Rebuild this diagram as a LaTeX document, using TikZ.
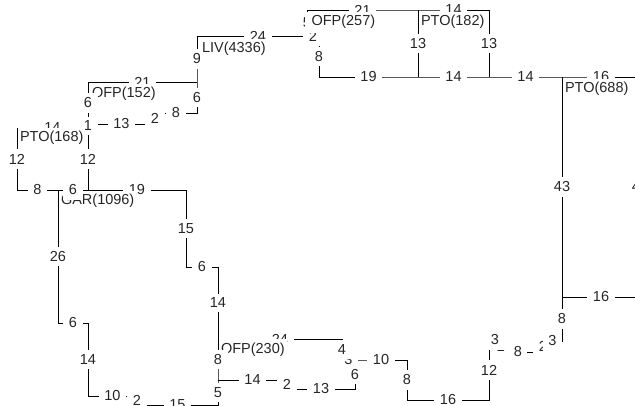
\documentclass[tikz,border=0pt]{standalone}
\usepackage{fontspec}
\setmainfont{Liberation Sans}
\usetikzlibrary{calc}
\definecolor{ink}{HTML}{262626}
\tikzset{
  road/.style={draw=black, line width=0.9pt, line join=miter},
  el/.style={fill=white, text=ink, inner xsep=5.5pt, inner ysep=4.5pt, outer sep=0pt,
    font=\fontsize{14.5}{16}\selectfont},
  nl/.style={fill=white, text=ink, anchor=base west, inner xsep=2pt, inner ysep=3pt, outer sep=0pt,
    font=\fontsize{14.5}{16}\selectfont},
}
\newcommand\elab[4][.5]{\node[el] (l-#2-#3) at ($(#2)!#1!(#3)$) {#4};}
\begin{document}
\begin{tikzpicture}[x=1pt,y=-1pt]
\useasboundingbox (0,0) rectangle (635,406);
% junctions
\coordinate (p1) at (17,128);
\coordinate (p2) at (88,128);
\coordinate (p3) at (88,124);
\coordinate (p4) at (155,124);
\coordinate (p5) at (155,113);
\coordinate (p6) at (197,113);
\coordinate (p7) at (197,82);
\coordinate (p8) at (197,36);
\coordinate (p9) at (88,82);
\coordinate (p10) at (307,36);
\coordinate (p11) at (319,36);
\coordinate (p12) at (307,10);
\coordinate (p13) at (418,10);
\coordinate (p14) at (489,10);
\coordinate (p15) at (319,77);
\coordinate (p16) at (418,77);
\coordinate (p17) at (489,77);
\coordinate (p18) at (562,77);
\coordinate (p19) at (640,77);
\coordinate (p20) at (562,297);
\coordinate (p21) at (640,297);
\coordinate (qf) at (562,341);
\coordinate (qe) at (543,341);
\coordinate (qd) at (543,352);
\coordinate (qc) at (501,352);
\coordinate (qb) at (501,340);
\coordinate (qa) at (489,340);
\coordinate (p23) at (489,400);
\coordinate (p24) at (407,400);
\coordinate (p25) at (407,360);
\coordinate (p26) at (355,360);
\coordinate (p27) at (342,360);
\coordinate (p28) at (342,339);
\coordinate (p29) at (218,339);
\coordinate (p30) at (355,389);
\coordinate (p31) at (287,389);
\coordinate (p32) at (287,380);
\coordinate (p33) at (218,380);
\coordinate (p34) at (218,405);
\coordinate (p35) at (137,405);
\coordinate (p36) at (137,396);
\coordinate (p37) at (88,396);
\coordinate (p38) at (88,323);
\coordinate (p39) at (58,323);
\coordinate (p40) at (58,190);
\coordinate (p41) at (17,190);
\coordinate (p42) at (88,190);
\coordinate (p43) at (186,190);
\coordinate (p44) at (186,267);
\coordinate (p45) at (218,267);
% streets
\draw[road] (p41) -- (p1) -- (p2) -- (p3) -- (p4) -- (p5) -- (p6) -- (p7) -- (p8) -- (p11)
  -- (p15) -- (p16) -- (p17) -- (p18) -- (p19) -- (p21) -- (p20) -- (qf) -- (qe) -- (qd)
  -- (qc) -- (qb) -- (qa) -- (p23) -- (p24) -- (p25) -- (p26) -- (p27) -- (p28) -- (p29)
  -- (p45) -- (p44) -- (p43) -- (p41);
\draw[road] (p3) -- (p9) -- (p7);
\draw[road] (p2) -- (p42);
\draw[road] (p10) -- (p12) -- (p13) -- (p14) -- (p17);
\draw[road] (p13) -- (p16);
\draw[road] (p18) -- (p20);
\draw[road] (p29) -- (p33) -- (p34) -- (p35) -- (p36) -- (p37) -- (p38) -- (p39) -- (p40);
\draw[road] (p26) -- (p30) -- (p31) -- (p32) -- (p33);
% segment lengths
\elab{p1}{p2}{14}
\elab{p2}{p3}{1}
\elab{p9}{p7}{21}
\elab{p3}{p4}{13}
\elab{p4}{p5}{2}
\elab{p5}{p6}{8}
\elab{p6}{p7}{6}
\elab{p7}{p8}{9}
\elab{p8}{p11}{24}
\elab{p10}{p11}{2}
\elab{p10}{p12}{5}
\elab{p12}{p13}{21}
\elab{p13}{p14}{14}
\elab{p13}{p16}{13}
\elab{p14}{p17}{13}
\elab{p11}{p15}{8}
\elab{p15}{p16}{19}
\elab{p16}{p17}{14}
\elab{p17}{p18}{14}
\elab{p18}{p19}{16}
\elab{p18}{p20}{43}
\elab{p19}{p21}{43}
\elab{p20}{p21}{16}
\elab{p20}{qf}{8}
\elab{qb}{qc}{2}
\elab{qa}{qb}{3}
\elab[.4]{qc}{qd}{8}
\elab{qd}{qe}{2}
\elab{qe}{qf}{3}
\elab{qa}{p23}{12}
\elab{p23}{p24}{16}
\elab{p24}{p25}{8}
\elab{p25}{p26}{10}
\elab{p26}{p27}{3}
\elab{p27}{p28}{4}
\elab{p28}{p29}{24}
\elab{p26}{p30}{6}
\elab{p30}{p31}{13}
\elab{p31}{p32}{2}
\elab{p32}{p33}{14}
\elab{p33}{p34}{5}
\elab{p34}{p35}{15}
\elab{p35}{p36}{2}
\elab{p36}{p37}{10}
\elab{p37}{p38}{14}
\elab{p38}{p39}{6}
\elab{p39}{p40}{26}
\elab{p40}{p41}{8}
\elab{p41}{p1}{12}
\elab{p42}{p2}{12}
\elab{p42}{p43}{19}
\elab{p43}{p44}{15}
\elab{p44}{p45}{6}
\elab{p45}{p29}{14}
% place names
\node[nl] (n168) at (18,142) {PTO(168)\hspace{6pt}};
\node[nl] (n152) at (90,98) {OFP(152)\hspace{6pt}};
\node[nl] (n4336) at (200,53) {LIV(4336)\hspace{6pt}};
\node[nl, inner xsep=6.5pt] (n257) at (305,26) {OFP(257)\hspace{2pt}};
\node[nl] (n182) at (419,26) {PTO(182)\hspace{6pt}};
\node[nl] (n688) at (563,93) {PTO(688)\hspace{6pt}};
\node[nl] (n1096) at (59,205) {GAR(1096)\hspace{6pt}};
\node[nl] (n230) at (219,353) {OFP(230)\hspace{6pt}};
% labels drawn over place names
\elab{p3}{p9}{6}
\elab{p40}{p42}{6}
\elab{p29}{p33}{8}
\end{tikzpicture}
\end{document}
